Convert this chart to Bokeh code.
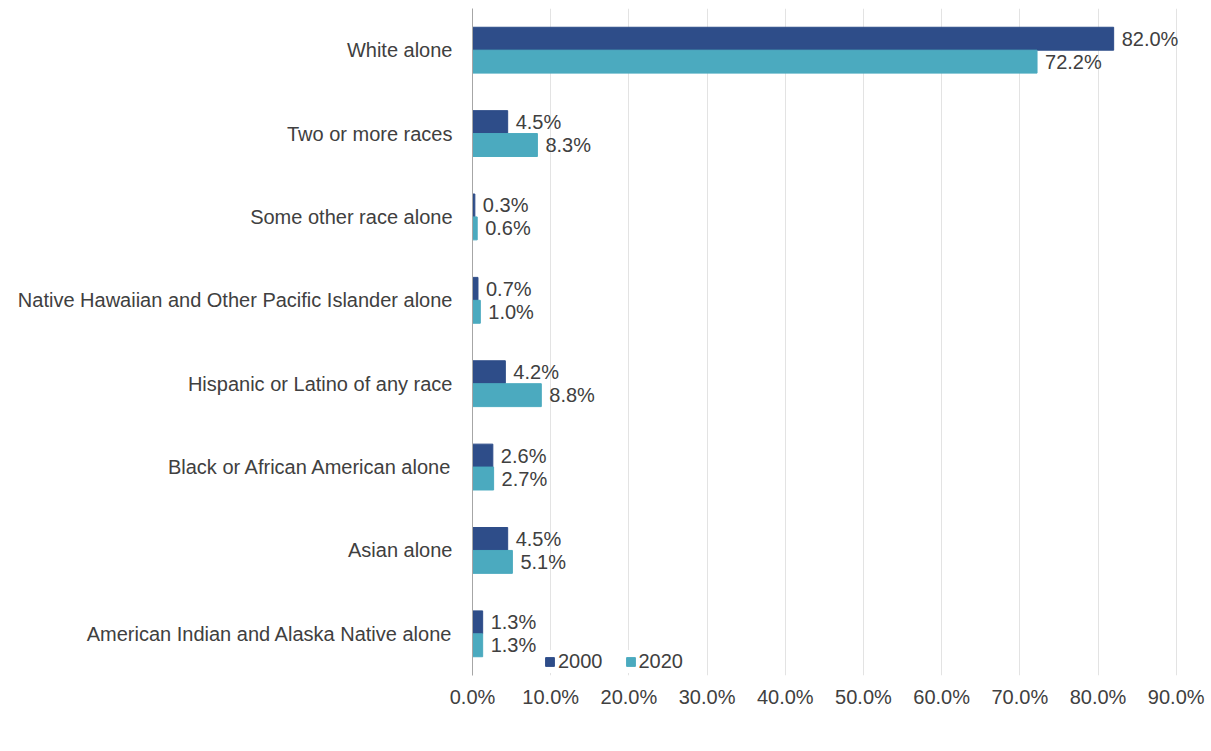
from bokeh.plotting import figure
from bokeh.models import ColumnDataSource, FactorRange, Range1d, FixedTicker, PrintfTickFormatter, Legend, LegendItem
from bokeh.transform import dodge
from bokeh.core.properties import value
from bokeh.embed import file_html
from bokeh.resources import INLINE

categories = [
    "White alone",
    "Two or more races",
    "Some other race alone",
    "Native Hawaiian and Other Pacific Islander alone",
    "Hispanic or Latino of any race",
    "Black or African American alone",
    "Asian alone",
    "American Indian and Alaska Native alone",
]
values_2000 = [82.0, 4.5, 0.3, 0.7, 4.2, 2.6, 4.5, 1.3]
values_2020 = [72.2, 8.3, 0.6, 1.0, 8.8, 2.7, 5.1, 1.3]
series_names = ["2000", "2020"]
x_ticks = [0, 10, 20, 30, 40, 50, 60, 70, 80, 90]

FONT = "Liberation Sans"
FS = "20px"
TXT = "#404040"
C2000 = "#2E4D89"
C2020 = "#4BAABF"

src = ColumnDataSource(dict(
    cat=categories,
    v2000=values_2000,
    v2020=values_2020,
    l2000=[f"{v:.1f}%" for v in values_2000],
    l2020=[f"{v:.1f}%" for v in values_2020],
))

p = figure(
    frame_width=735, frame_height=667,
    y_range=FactorRange(*list(reversed(categories)), range_padding=0),
    x_range=Range1d(0, 94),
    output_backend="svg", toolbar_location=None,
    min_border_left=472, min_border_right=0, min_border_top=8, min_border_bottom=0,
)
p.outline_line_color = None

h = 0.275
r1 = p.hbar(y=dodge("cat", h / 2, range=p.y_range), right="v2000", left=0, height=h,
            source=src, fill_color=C2000, line_color=C2000)
r2 = p.hbar(y=dodge("cat", -h / 2, range=p.y_range), right="v2020", left=0, height=h,
            source=src, fill_color=C2020, line_color=C2020)

p.text(x="v2000", y=dodge("cat", h / 2, range=p.y_range), text="l2000", source=src,
       x_offset=8, text_align="left", text_baseline="middle",
       text_font=value(FONT), text_font_size=FS, text_color=TXT)
p.text(x="v2020", y=dodge("cat", -h / 2, range=p.y_range), text="l2020", source=src,
       x_offset=8, text_align="left", text_baseline="middle",
       text_font=value(FONT), text_font_size=FS, text_color=TXT)

# axes
p.xaxis.ticker = FixedTicker(ticks=x_ticks)
p.xaxis.formatter = PrintfTickFormatter(format="%.1f%%")
p.xaxis.axis_line_color = None
p.xaxis.major_tick_line_color = None
p.xaxis.minor_tick_line_color = None
p.xaxis.major_label_text_font = FONT
p.xaxis.major_label_text_font_size = FS
p.xaxis.major_label_text_color = TXT
p.xaxis.major_label_standoff = 4

p.yaxis.axis_line_color = "#A6A6A6"
p.yaxis.major_tick_line_color = None
p.yaxis.minor_tick_line_color = None
p.yaxis.major_label_text_font = FONT
p.yaxis.major_label_text_font_size = FS
p.yaxis.major_label_text_color = TXT
p.yaxis.major_label_standoff = 14

p.xgrid.grid_line_color = "#E3E3E3"
p.xgrid.ticker = FixedTicker(ticks=x_ticks)
p.ygrid.grid_line_color = None

legend = Legend(items=[LegendItem(label=series_names[0], renderers=[r1]),
                       LegendItem(label=series_names[1], renderers=[r2])],
                orientation="horizontal", location=(72, 2),
                label_text_font=FONT, label_text_font_size=FS, label_text_color=TXT,
                glyph_width=11, glyph_height=11, label_standoff=3, spacing=22,
                label_height=20,
                border_line_color=None, background_fill_color="white", background_fill_alpha=1,
                padding=2, margin=0)
p.add_layout(legend, "center")

open("out.html", "w").write(file_html(p, INLINE))
